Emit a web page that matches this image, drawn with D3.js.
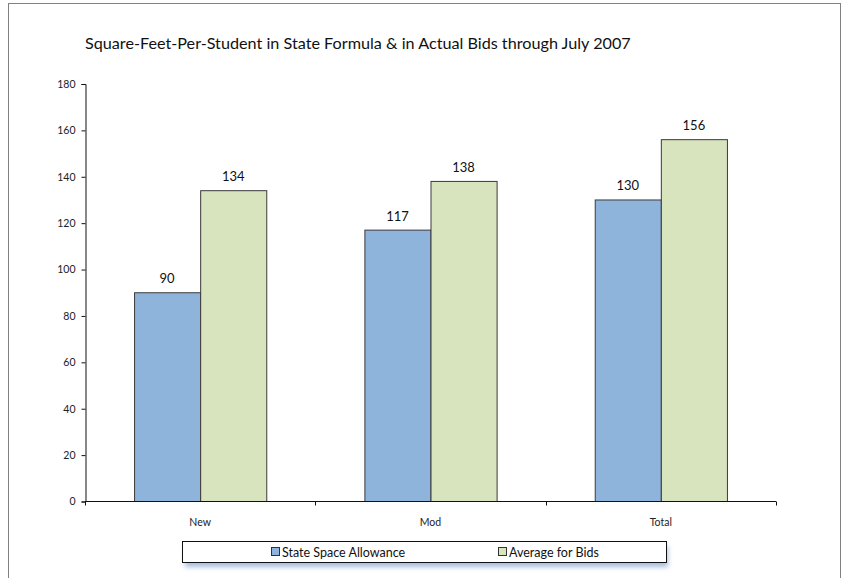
<!DOCTYPE html>
<html>
<head>
<meta charset="utf-8">
<script src="https://cdnjs.cloudflare.com/ajax/libs/d3/7.8.5/d3.min.js"></script>
<style>
  body { margin: 0; background: #fff; }
  svg { font-family: Lato, "Liberation Sans", sans-serif; }
</style>
</head>
<body>
<script>
(function() {
    const categories = ['New', 'Mod', 'Total']
    const seriesNames = ['State Space Allowance', 'Average for Bids']
    const stateSpace = [90, 117, 130]
    const avgBids = [134, 138, 156]
    const yTicks = [0, 20, 40, 60, 80, 100, 120, 140, 160, 180]
    const colors = ['#8eb4db', '#d8e4be']

    const width = 845
    const height = 578

    const svg = d3.select('body')
        .append('svg')
        .attr('width', width)
        .attr('height', height)

    // outer chart frame (bottom edge falls off the page)
    svg.append('rect')
        .attr('x', 8.5).attr('y', 3.5)
        .attr('width', 832).attr('height', 600)
        .attr('fill', 'none')
        .attr('stroke', '#808080')

    svg.append('text')
        .attr('x', 85).attr('y', 49)
        .attr('font-size', 16.2)
        .attr('fill', '#111')
        .text('Square-Feet-Per-Student in State Formula & in Actual Bids through July 2007')

    const x0 = d3.scaleBand()
        .domain(categories)
        .range([85, 776])
        .paddingInner(0.426)
        .paddingOuter(0.213)

    const x1 = d3.scaleBand()
        .domain(seriesNames)
        .range([0, x0.bandwidth()])

    const y = d3.scaleLinear()
        .domain([0, 180])
        .range([501, 83.5])

    const rows = categories.map((c, i) => ({
        cat: c,
        vals: [
            {name: seriesNames[0], v: stateSpace[i], color: colors[0]},
            {name: seriesNames[1], v: avgBids[i], color: colors[1]}
        ]
    }))

    const groups = svg.append('g').selectAll('g')
        .data(rows)
        .enter()
        .append('g')
        .attr('transform', d => 'translate(' + x0(d.cat) + ',0)')

    groups.selectAll('rect')
        .data(d => d.vals)
        .enter()
        .append('rect')
        .attr('x', d => x1(d.name) + 0.5)
        .attr('y', d => y(d.v) + 0.5)
        .attr('width', x1.bandwidth())
        .attr('height', d => y(0) - y(d.v))
        .attr('fill', d => d.color)
        .attr('stroke', '#3a3a3a')
        .attr('stroke-width', 1)

    groups.selectAll('text')
        .data(d => d.vals)
        .enter()
        .append('text')
        .attr('x', d => x1(d.name) + x1.bandwidth() / 2)
        .attr('y', d => y(d.v) - 9)
        .attr('text-anchor', 'middle')
        .attr('font-size', 13)
        .attr('fill', '#111')
        .text(d => d.v)

    // y axis
    const yAxis = svg.append('g')
        .attr('transform', 'translate(85.5,0.5)')
        .call(d3.axisLeft(y).tickValues(yTicks).tickSize(4).tickPadding(6))
    yAxis.select('.domain').attr('stroke', '#111')
    yAxis.selectAll('line').attr('stroke', '#111')
    yAxis.selectAll('text').attr('font-size', 10.5).attr('fill', '#222')
        .attr('font-family', 'Lato, sans-serif')

    // x axis: line with ticks at category boundaries
    const xAxisG = svg.append('g').attr('transform', 'translate(0,501.5)')
    xAxisG.append('line')
        .attr('x1', 85).attr('x2', 776)
        .attr('stroke', '#111')
    const bounds = categories.map(c => x0(c) - x0.step() * x0.paddingInner() / 2)
    bounds.push(776)
    xAxisG.selectAll('.xt')
        .data(bounds)
        .enter()
        .append('line')
        .attr('class', 'xt')
        .attr('x1', d => Math.round(d) + 0.5).attr('x2', d => Math.round(d) + 0.5)
        .attr('y1', 0).attr('y2', 4)
        .attr('stroke', '#111')
    xAxisG.selectAll('.xl')
        .data(categories)
        .enter()
        .append('text')
        .attr('x', d => x0(d) + x0.bandwidth() / 2)
        .attr('y', 24)
        .attr('text-anchor', 'middle')
        .attr('font-size', 10.5)
        .attr('fill', '#222')
        .text(d => d)

    // legend
    const defs = svg.append('defs')
    const blur = defs.append('filter').attr('id', 'sh')
        .attr('x', '-5%').attr('y', '-50%').attr('width', '110%').attr('height', '200%')
    blur.append('feGaussianBlur').attr('stdDeviation', 2.5)

    const leg = svg.append('g')
    leg.append('rect')
        .attr('x', 185).attr('y', 546)
        .attr('width', 483).attr('height', 21)
        .attr('fill', '#a9bddc')
        .attr('filter', 'url(#sh)')
    leg.append('rect')
        .attr('x', 182.5).attr('y', 541.5)
        .attr('width', 484).attr('height', 21)
        .attr('fill', '#fff')
        .attr('stroke', '#111')

    const legX = [271, 498]
    const items = leg.selectAll('.li')
        .data(seriesNames)
        .enter()
        .append('g')
        .attr('class', 'li')
        .attr('transform', (d, i) => 'translate(' + legX[i] + ',547)')
    items.append('rect')
        .attr('x', 0.5).attr('y', 0.5)
        .attr('width', 8).attr('height', 8)
        .attr('fill', (d, i) => colors[i])
        .attr('stroke', '#333')
    items.append('text')
        .attr('x', 11).attr('y', 9.5)
        .attr('font-size', 12.5)
        .attr('fill', '#111')
        .text(d => d)
})();
</script>
</body>
</html>
